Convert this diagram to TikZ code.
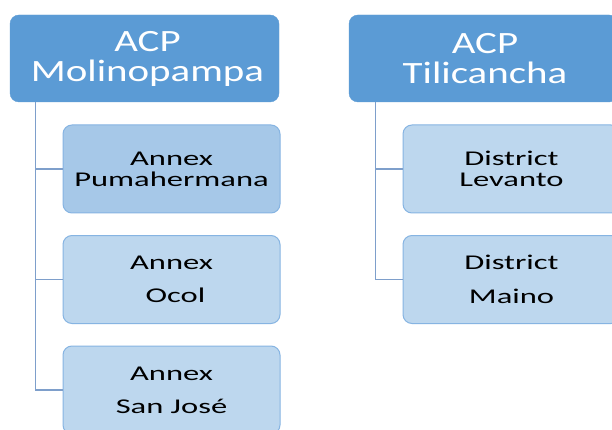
\documentclass[tikz,border=0pt]{standalone}
\usepackage{fontspec}
\setmainfont{Carlito}
\newfontfamily\acpfont[FakeStretch=1.32]{Carlito}
\newfontfamily\annexfont[FakeStretch=1.55]{Carlito}
\usepackage{tikz}

\definecolor{acpblue}{HTML}{5B9BD5}
\definecolor{annexdark}{HTML}{A6C8E8}
\definecolor{annexlight}{HTML}{BDD7EE}
\definecolor{annexedge}{HTML}{86B4E2}
\definecolor{linkblue}{HTML}{7E9FCB}

\begin{document}
\begin{tikzpicture}[x=1pt,y=-1pt,
  acp/.style={rectangle,rounded corners=9pt,fill=acpblue,draw=acpblue,
    text=white,minimum width=269pt,minimum height=87pt,align=center,
    font=\acpfont\fontsize{31}{30}\selectfont},
  annex/.style={rectangle,rounded corners=9pt,fill=annexlight,draw=annexedge,
    line width=1pt,text=black,minimum width=217pt,minimum height=88pt,
    align=center,font=\annexfont\fontsize{21}{21}\selectfont},
  link/.style={draw=linkblue,line width=1.2pt}]
\clip (0,0) rectangle (612,430);
\useasboundingbox (0,0) rectangle (612,430);
\fill[white] (0,0) rectangle (612,430);

\node [acp] (mol) at (144.5,58.5) {\hspace{6pt}ACP\\\hspace{6pt}Molinopampa};
\node [acp] (til) at (483.5,58.5) {\hspace{3pt}ACP\\\hspace{3pt}Tilicancha};

\node [annex,fill=annexdark] (puma) at (171.5,169) {Annex\\Pumahermana};
\node [annex] (ocol) at (171.5,279.5) {Annex\\[12pt]\hspace{8pt}Ocol};
\node [annex] (sanjose) at (171.5,390) {Annex\\[12pt]San José};

\node [annex] (levanto) at (511.5,169) {District\\Levanto};
\node [annex] (maino) at (511.5,279.5) {District\\[13pt]Maino};

\draw [link] ([xshift=26pt]mol.south west) |- (puma.west);
\draw [link] ([xshift=26pt]mol.south west) |- (ocol.west);
\draw [link] ([xshift=26pt]mol.south west) |- (sanjose.west);
\draw [link] ([xshift=27pt]til.south west) |- (levanto.west);
\draw [link] ([xshift=27pt]til.south west) |- (maino.west);
\end{tikzpicture}
\end{document}
